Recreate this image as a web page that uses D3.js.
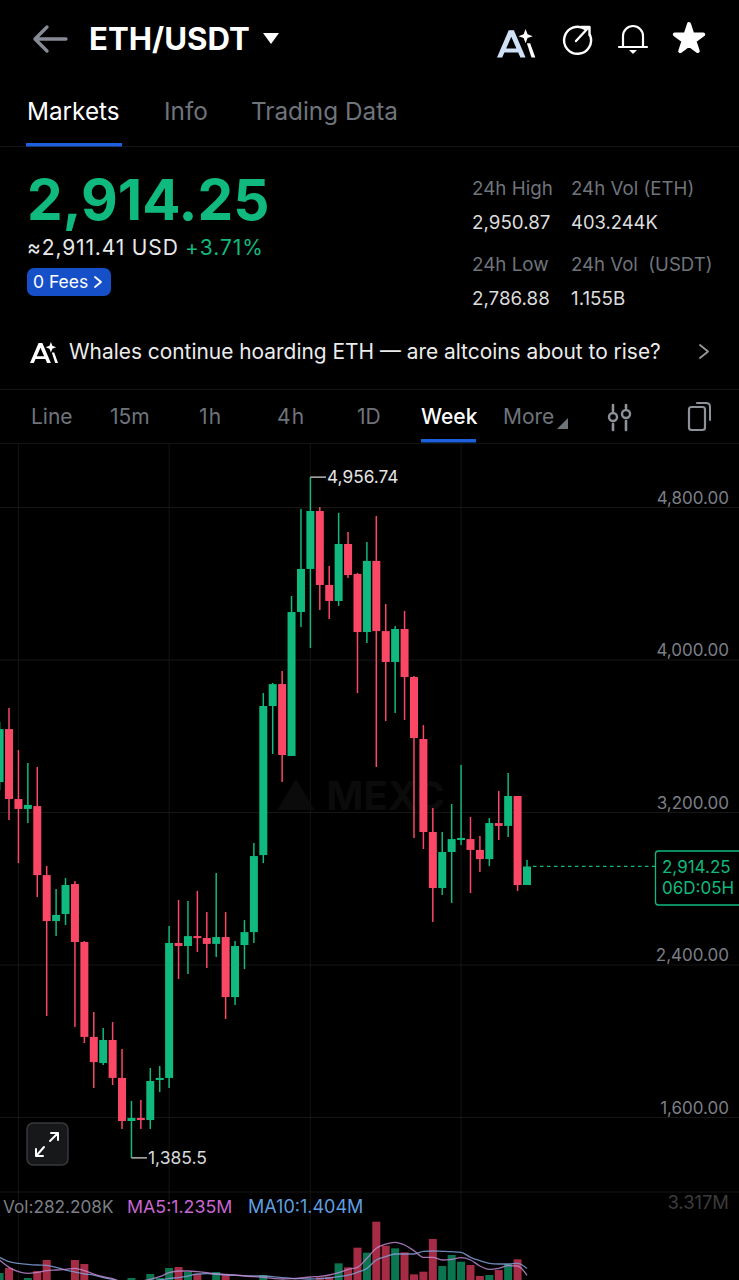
<!DOCTYPE html>
<html>
<head>
<meta charset="utf-8">
<script src="https://cdn.jsdelivr.net/npm/d3@7"></script>
<style>
  html, body { margin: 0; padding: 0; background: #000; }
  svg { display: block; font-family: Inter, "Noto Sans", sans-serif; }
</style>
</head>
<body>
<div id="chart"></div>
<script>
// weekly candles
const candleOpen = [3357,3635,3268,3216,3231,2869,2628,2665,2822,2518,
  2020,1883,2004,1805,1579,1595,1584,1794,1805,2513,
  2497,2549,2539,2508,2544,2229,2502,2570,2974,3756,
  3871,3494,4249,4475,4779,4391,4307,4606,4449,4144,
  4517,4149,3987,4160,3908,3583,3095,2801,2990,3053,
  3058,3001,2953,3142,3127,3284,2817];
const candleClose = [3635,3268,3216,3237,2869,2628,2660,2817,2518,2020,
  1888,2004,1805,1579,1595,1584,1789,1805,2513,2497,
  2549,2539,2508,2544,2229,2497,2570,2969,3756,3871,
  3499,4249,4475,4779,4391,4307,4606,4443,4144,4517,
  4149,3987,4160,3908,3588,3095,2801,2990,3058,3064,
  3001,2953,3142,3127,3284,2817,2914.25];
const candleHigh = [3672,3746,3525,3457,3436,2917,2796,2854,2838,2523,
  2151,2067,2098,1957,1684,1689,1857,1868,2602,2738,
  2733,2786,2675,2880,2675,2523,2633,3037,3824,3877,
  3940,4333,4790,4956.74,4800,4490,4769,4669,4454,4616,
  4753,4291,4176,4254,3913,3656,3221,3095,3242,3447,
  3174,3074,3168,3310,3405,3284,2948];
const candleLow = [3315,3158,2932,3142,2754,2130,2549,2607,2072,1988,
  1752,1873,1768,1537,1385.5,1537,1537,1731,1752,2324,
  2350,2466,2382,2439,2114,2187,2376,2513,2932,3504,
  3357,3494,4170,4060,4260,4212,4281,4428,3824,4087,
  3436,3677,3719,3683,3064,3006,2623,2765,2723,3027,
  2775,2885,2917,3053,3069,2786,2817];

// volume in millions, bars under about 1.1 run off the bottom of the screen
const volume = [1.292,1.417,1.05,1.167,1.342,1.617,1.05,0.95,1.617,1.517,
  1.0,0.8,1.0,1.05,1.167,0.9,1.267,1.167,1.417,1.442,
  1.317,1.267,1.0,1.317,1.267,1.0,1.1,1.05,1.242,1.0,
  1.05,1.0,1.05,1.0,1.184,1.2,1.534,1.434,1.925,1.8,
  2.575,1.975,1.909,1.809,1.259,1.325,2.142,1.467,1.742,1.575,
  1.492,1.217,1.242,1.367,1.517,1.634,0.282];
const ma5 = [1.617,1.434,1.325,1.284,1.309,1.350,1.367,1.384,1.409,1.350,
  1.267,1.200,1.150,1.076,1.076,1.092,1.134,1.200,1.300,1.342,
  1.342,1.325,1.300,1.267,1.259,1.242,1.217,1.200,1.184,1.159,
  1.142,1.150,1.167,1.192,1.209,1.242,1.300,1.384,1.434,1.659,
  1.909,2.017,2.059,1.992,1.850,1.684,1.684,1.617,1.634,1.675,
  1.617,1.467,1.384,1.409,1.475,1.467,1.235];
const ma10 = [1.684,1.575,1.534,1.509,1.492,1.484,1.434,1.367,1.317,1.267,
  1.242,1.175,1.134,1.076,1.050,1.034,1.076,1.117,1.159,1.175,
  1.217,1.267,1.275,1.267,1.242,1.234,1.225,1.217,1.217,1.200,
  1.175,1.159,1.150,1.142,1.150,1.167,1.200,1.242,1.309,1.409,
  1.617,1.700,1.767,1.767,1.767,1.834,1.842,1.834,1.825,1.809,
  1.684,1.600,1.534,1.517,1.517,1.534,1.404];

const priceTicks = [4800, 4000, 3200, 2400, 1600];
const timeGridCandles = [2, 18, 33, 49];
const timeframes = ["Line", "15m", "1h", "4h", "1D", "Week", "More"];
const timeframeX = [31, 110, 199, 277, 357, 421, 503];
const topTabs = ["Markets", "Info", "Trading Data"];
const topTabX = [27, 164, 251];

const W = 739, H = 1280;
const green = "#10b97d", red = "#fb4766", gray = "#6f747b";

const svg = d3.select("#chart").append("svg")
  .attr("width", W).attr("height", H).attr("viewBox", `0 0 ${W} ${H}`);
svg.append("rect").attr("width", W).attr("height", H).attr("fill", "#000");

function label(x, y, str, size, fill, opts) {
  opts = opts || {};
  return svg.append("text").attr("x", x).attr("y", y).text(str)
    .attr("font-size", size).attr("fill", fill)
    .attr("font-weight", opts.weight || 400)
    .attr("letter-spacing", opts.spacing || 0)
    .attr("text-anchor", opts.anchor || "start");
}

function stroke(d, color, width) {
  return svg.append("path").attr("d", d).attr("fill", "none")
    .attr("stroke", color).attr("stroke-width", width)
    .attr("stroke-linecap", "round").attr("stroke-linejoin", "round");
}

function sparkA(dx, dy, k) {
  // the little "A + sparkle" logo, used twice
  const g = svg.append("g").attr("transform", `translate(${dx},${dy}) scale(${k})`);
  g.append("path").attr("d", "M0 22 L9 1 L13 1 L22 22 L18 22 L11 6 L4 22 Z M6 15 L16 15 L17 18 L4.5 18 Z")
    .attr("fill", "#fff");
  g.append("path").attr("d", "M22 0 L23.5 4 L27.5 5.5 L23.5 7 L22 11 L20.5 7 L16.5 5.5 L20.5 4 Z").attr("fill", "#fff");
  g.append("path").attr("d", "M23 11 L25.5 11 L29.5 22 L26.5 22 Z").attr("fill", "#fff");
  return g;
}

// ---- header
stroke("M66 39 H36 M47 27 L35 39 L47 51", "#858a94", 3.4);
label(89, 50, "ETH/USDT", 31.2, "#fff", {weight: 700});
svg.append("path").attr("d", "M263 33 H279 L271 44 Z").attr("fill", "#fff");

sparkA(497, 29, 1.3).select("path").attr("fill", "#cfe0f7");

stroke("M585 29 A13.5 13.5 0 1 0 590 35", "#fff", 2.4);
stroke("M576 41 L589 27 M581 27 H589.5 V35", "#fff", 2.4);
stroke("M623 47 V36 A10 10 0 0 1 643 36 V47 M619 47 H647", "#fff", 2.2);
svg.append("path").attr("d", "M629 50 H637 L633 54 Z").attr("fill", "#fff");
svg.append("path")
  .attr("d", d3.symbol().type(d3.symbolStar).size(250))
  .attr("transform", "translate(689,39)")
  .attr("fill", "#fff").attr("stroke", "#fff").attr("stroke-width", 4).attr("stroke-linejoin", "round");

topTabs.forEach((t, i) => label(topTabX[i], 120, t, 24.3, i == 0 ? "#fff" : gray));
svg.append("rect").attr("x", 0).attr("y", 146).attr("width", W).attr("height", 1).attr("fill", "#141414");
svg.append("rect").attr("x", 26).attr("y", 143).attr("width", 96).attr("height", 3.5).attr("fill", "#1d5fdc");

// ---- price block
label(27, 220, "2,914.25", 56.7, green, {weight: 700});
label(27, 255, "≈2,911.41 USD", 21, "#e8e8e8", {spacing: 0.85});
label(185, 255, "+3.71%", 21, green, {spacing: 1});
svg.append("rect").attr("x", 27).attr("y", 268).attr("width", 84).attr("height", 28).attr("rx", 7).attr("fill", "#1650c9");
label(33, 288, "0 Fees", 17.5, "#fff");
stroke("M95 277 L101 282 L95 287", "#fff", 1.8);

label(472, 195, "24h High", 18.8, gray);
label(571, 195, "24h Vol (ETH)", 18.7, gray);
label(472, 229, "2,950.87", 18.8, "#dcdcdc");
label(571, 229, "403.244K", 18.4, "#dcdcdc");
label(472, 271, "24h Low", 18.8, gray);
label(571, 271, "24h Vol  (USDT)", 18.6, gray).attr("xml:space", "preserve").style("white-space", "pre");
label(472, 305, "2,786.88", 18.8, "#dcdcdc");
label(571, 305, "1.155B", 18.8, "#dcdcdc");

// ---- news line
sparkA(30, 342, 0.95);
label(69, 359, "Whales continue hoarding ETH — are altcoins about to rise?", 20.9, "#ececec");
stroke("M700 345 L708 351.5 L700 358", "#9a9a9a", 1.8);
svg.append("rect").attr("x", 0).attr("y", 389).attr("width", W).attr("height", 1).attr("fill", "#141414");

// ---- timeframe row
timeframes.forEach((t, i) => label(timeframeX[i], 424, t, 21, t == "Week" ? "#fff" : gray,
  {weight: t == "Week" ? 500 : 400, spacing: /^\d[mh]/.test(t) ? 1.1 : 0}));
svg.append("path").attr("d", "M568 418 V429 H557 Z").attr("fill", gray);
svg.append("rect").attr("x", 421).attr("y", 439).attr("width", 55).attr("height", 3.5).attr("fill", "#1d5fdc");
svg.append("rect").attr("x", 0).attr("y", 443).attr("width", W).attr("height", 1).attr("fill", "#141414");

stroke("M613 405 V411 M613 424 V430 M626 405 V408 M626 421 V430", "#8d9198", 2.6);
svg.append("circle").attr("cx", 613).attr("cy", 417).attr("r", 4).attr("fill", "none").attr("stroke", "#8d9198").attr("stroke-width", 2.4);
svg.append("circle").attr("cx", 626).attr("cy", 414).attr("r", 4).attr("fill", "none").attr("stroke", "#8d9198").attr("stroke-width", 2.4);
svg.append("rect").attr("x", 689).attr("y", 407).attr("width", 16).attr("height", 23).attr("rx", 2.5)
  .attr("fill", "none").attr("stroke", "#8d9198").attr("stroke-width", 2.2);
stroke("M697 403 H706 Q710 403 710 407 V420", "#8d9198", 2);

// ---- scales
const x = d3.scaleLinear().domain([0, candleOpen.length - 1]).range([-0.4, 527]);
const y = d3.scaleLinear().domain([1600, 4800]).range([1117, 507]);
const yVol = d3.scaleLinear().domain([0, 3.317]).range([1324.7, 1192]);

svg.append("clipPath").attr("id", "plot").append("rect")
  .attr("x", 0).attr("y", 444).attr("width", W).attr("height", H - 444);

// ---- grid
const grid = svg.append("g");
grid.selectAll("line.v").data(timeGridCandles).join("line").attr("class", "v")
  .attr("x1", d => x(d)).attr("x2", d => x(d)).attr("y1", 444).attr("y2", H)
  .attr("stroke", "#141414");

const yAxis = d3.axisRight(y).tickValues(priceTicks).tickSize(W).tickFormat(d3.format(",.2f"));
const axisG = svg.append("g").call(yAxis);
axisG.select(".domain").remove();
axisG.selectAll(".tick line").attr("stroke", "#161616");
axisG.selectAll(".tick text").attr("x", 729).attr("dy", -4).attr("text-anchor", "end")
  .attr("font-size", 17).attr("font-family", "Inter, sans-serif").attr("fill", "#7b7f85");

svg.append("line").attr("x1", 0).attr("x2", W).attr("y1", yVol(3.317)).attr("y2", yVol(3.317)).attr("stroke", "#161616");

// watermark
label(275, 810, "▲ MEXC", 40, "#0b0b0b", {weight: 700});

// ---- candles
const plot = svg.append("g").attr("clip-path", "url(#plot)");
const idx = d3.range(candleOpen.length);
const isUp = i => candleClose[i] >= candleOpen[i];
const bodyW = 8;

plot.selectAll("line.wick").data(idx).join("line").attr("class", "wick")
  .attr("x1", i => x(i)).attr("x2", i => x(i))
  .attr("y1", i => y(candleHigh[i])).attr("y2", i => y(candleLow[i]))
  .attr("stroke", i => isUp(i) ? green : red).attr("stroke-width", 1.5);

plot.selectAll("rect.body").data(idx).join("rect").attr("class", "body")
  .attr("x", i => x(i) - bodyW / 2).attr("width", bodyW)
  .attr("y", i => y(Math.max(candleOpen[i], candleClose[i])))
  .attr("height", i => Math.max(2, Math.abs(y(candleOpen[i]) - y(candleClose[i]))))
  .attr("fill", i => isUp(i) ? green : red);

// ---- volume
plot.selectAll("rect.vol").data(idx).join("rect").attr("class", "vol")
  .attr("x", i => x(i) - bodyW / 2).attr("width", bodyW)
  .attr("y", i => yVol(volume[i]))
  .attr("height", i => yVol(0) - yVol(volume[i]))
  .attr("fill", i => isUp(i) ? "#0b7550" : "#a52c44");

const maLine = d3.line().x((d, i) => x(i)).y(d => yVol(d)).curve(d3.curveMonotoneX);
plot.append("path").attr("d", maLine(ma10)).attr("fill", "none").attr("stroke", "#7f9fd6").attr("stroke-width", 1.3).attr("opacity", 0.85);
plot.append("path").attr("d", maLine(ma5)).attr("fill", "none").attr("stroke", "#bd88d0").attr("stroke-width", 1.3).attr("opacity", 0.85);

label(3, 1213, "Vol:282.208K", 17.2, "#7b7f85");
label(127, 1213, "MA5:1.235M", 17.8, "#c866d2");
label(248, 1213, "MA10:1.404M", 18, "#5f9fe0");
label(729, 1209, "3.317M", 18.4, "#3c3c3c", {anchor: "end"});

// ---- high / low callouts
const hi = d3.max(candleHigh), lo = d3.min(candleLow);
const hiX = x(candleHigh.indexOf(hi)), loX = x(candleLow.indexOf(lo));
svg.append("line").attr("x1", hiX).attr("x2", 326).attr("y1", y(hi)).attr("y2", y(hi)).attr("stroke", "#e0e0e0").attr("stroke-width", 1.2);
label(327, y(hi) + 6, d3.format(",.2f")(hi), 17.3, "#e4e4e4");
svg.append("line").attr("x1", loX).attr("x2", 147).attr("y1", y(lo)).attr("y2", y(lo)).attr("stroke", "#e0e0e0").attr("stroke-width", 1.2);
label(148, y(lo) + 6, d3.format(",.1f")(lo), 17.5, "#d8d8d8");

// ---- last price tag
const last = candleClose[candleClose.length - 1];
svg.append("line").attr("x1", 533).attr("x2", 655).attr("y1", y(last)).attr("y2", y(last))
  .attr("stroke", green).attr("stroke-width", 1.3).attr("stroke-dasharray", "3.5 3.5");
svg.append("rect").attr("x", 655.5).attr("y", 851).attr("width", 90).attr("height", 54).attr("rx", 3)
  .attr("fill", "#000").attr("stroke", green).attr("stroke-width", 1.3);
label(662, 873, d3.format(",.2f")(last), 17, green);
label(662, 894, "06D:05H", 17, green);

// ---- expand button
svg.append("rect").attr("x", 27).attr("y", 1123).attr("width", 41).attr("height", 42).attr("rx", 6)
  .attr("fill", "#17181a").attr("stroke", "#36383c").attr("stroke-width", 1.5);
stroke("M50 1141 L58 1133 M51 1133 H58 V1140 M44 1147 L37 1155 M36 1149 V1156 H43", "#fff", 2);
</script>
</body>
</html>
